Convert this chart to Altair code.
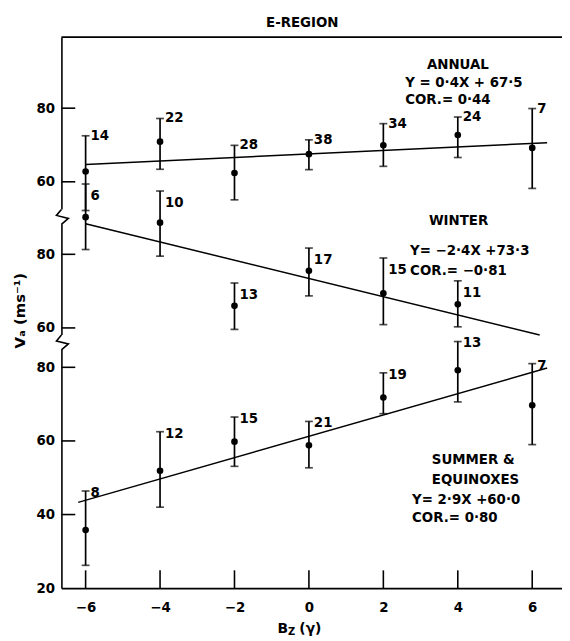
import altair as alt
import pandas as pd

# ---------------- data ----------------
bz = [-6, -4, -2, 0, 2, 4, 6]

annual_mean = [62.8, 70.9, 62.4, 67.5, 69.9, 72.7, 69.2]
annual_hi = [72.5, 77.2, 69.9, 71.4, 75.8, 77.6, 79.9]
annual_lo = [52.2, 63.4, 55.1, 63.3, 64.2, 66.6, 58.2]
annual_n = [14, 22, 28, 38, 34, 24, 7]

winter_bz = [-6, -4, -2, 0, 2, 4]
winter_mean = [90.1, 88.6, 66.0, 75.5, 69.4, 66.4]
winter_hi = [99.1, 97.2, 72.2, 81.7, 79.0, 72.8]
winter_lo = [81.3, 79.5, 59.6, 68.7, 60.9, 60.3]
winter_n = [6, 10, 13, 17, 15, 11]

summer_mean = [35.8, 51.9, 59.8, 58.8, 71.8, 79.2, 69.7]
summer_hi = [46.4, 62.5, 66.5, 65.3, 78.5, 87.0, 81.0]
summer_lo = [26.2, 42.0, 53.1, 52.7, 67.4, 70.6, 59.0]
summer_n = [8, 12, 15, 21, 19, 13, 7]

annual_fit_bz = [-6, 6.4]
annual_fit = [64.7, 70.6]
winter_fit_bz = [-6, 6.2]
winter_fit = [88.3, 58.1]
summer_fit_bz = [-6.2, 6.4]
summer_fit = [43.3, 79.8]

annual_ticks = [60, 80]
winter_ticks = [60, 80]
summer_ticks = [20, 40, 60, 80]
x_ticks = [-6, -4, -2, 0, 2, 4, 6]

# ---------------- layout (stacked panels on one scale) ----------------
OFFSET = {"annual": 70.4, "winter": 30.7, "summer": 0.0}
BREAKS = [121.0, 86.9]          # y-axis breaks between panels
X_MIN, X_MAX = -6.65, 6.8
Y_MIN, Y_MAX = 20, 169.7
W, H = 506, 557
PXX = W / (X_MAX - X_MIN)
PXY = H / (Y_MAX - Y_MIN)
FONT = "DejaVu Sans"
FW = "bold"
LABEL_DY = {"annual": 0, "winter": 12, "summer": 2}

series = {
    "annual": (bz, annual_mean, annual_lo, annual_hi, annual_n),
    "winter": (winter_bz, winter_mean, winter_lo, winter_hi, winter_n),
    "summer": (bz, summer_mean, summer_lo, summer_hi, summer_n),
}
rows = []
for name, (xs, m, lo, hi, n) in series.items():
    off = OFFSET[name]
    for i in range(len(xs)):
        rows.append(dict(series=name, x=xs[i], y=m[i] + off, lo=lo[i] + off,
                         hi=hi[i] + off, n=str(n[i])))
pts = pd.DataFrame(rows)

fits = {"annual": (annual_fit_bz, annual_fit), "winter": (winter_fit_bz, winter_fit),
        "summer": (summer_fit_bz, summer_fit)}
fit_df = pd.DataFrame([dict(series=k, x=xs[i], y=v[i] + OFFSET[k])
                       for k, (xs, v) in fits.items() for i in range(2)])

tick_pos = ([t + OFFSET["annual"] for t in annual_ticks] +
            [t + OFFSET["winter"] for t in winter_ticks] +
            [t + OFFSET["summer"] for t in summer_ticks])
ytick_df = pd.DataFrame({"y": [t for t in tick_pos if t > Y_MIN]})
ytick_df["x"] = X_MIN
ytick_df["x2"] = X_MIN + 14 / PXX
xtick_df = pd.DataFrame({"x": x_ticks})
xtick_df["y"] = Y_MIN
xtick_df["y2"] = Y_MIN + 18 / PXY

zz = [(0, -7), (-5, -1), (7, 2), (0, 8)]   # zig-zag shape, px
zig_rows, mask_rows = [], []
for b, yb in enumerate(BREAKS):
    for k, (dx, dy) in enumerate(zz):
        zig_rows.append(dict(b=b, k=k, x=X_MIN + dx / PXX, y=yb - dy / PXY))
    mask_rows.append(dict(x=X_MIN, y=yb + 7 / PXY, y2=yb - 8 / PXY))
zig_df = pd.DataFrame(zig_rows)
mask_df = pd.DataFrame(mask_rows)

border_df = pd.DataFrame([dict(x=X_MIN, x2=X_MAX, y=Y_MAX)])


def px_to_x(p):
    return (p - 86) / PXX - 6


def px_to_y(p):
    return Y_MIN + (591 - p) / PXY


ann = pd.DataFrame([
    dict(t="E-REGION", x=px_to_x(305), y=px_to_y(20), s=13.5, a="center"),
    dict(t="ANNUAL", x=px_to_x(431), y=px_to_y(62), s=13.5, a="left"),
    dict(t="Y = 0·4X + 67·5", x=px_to_x(409), y=px_to_y(80), s=13.5, a="left"),
    dict(t="COR.= 0·44", x=px_to_x(409), y=px_to_y(98), s=13.5, a="left"),
    dict(t="WINTER", x=px_to_x(433), y=px_to_y(220), s=13.5, a="left"),
    dict(t="Y= −2·4X +73·3", x=px_to_x(414), y=px_to_y(250), s=13.5, a="left"),
    dict(t="COR.= −0·81", x=px_to_x(414), y=px_to_y(270.7), s=13.5, a="left"),
    dict(t="SUMMER &", x=px_to_x(436), y=px_to_y(461), s=13.5, a="left"),
    dict(t="EQUINOXES", x=px_to_x(436), y=px_to_y(481.7), s=13.5, a="left"),
    dict(t="Y= 2·9X +60·0", x=px_to_x(416), y=px_to_y(501.7), s=13.5, a="left"),
    dict(t="COR.= 0·80", x=px_to_x(416), y=px_to_y(520), s=13.5, a="left"),
    dict(t="B", x=px_to_x(280), y=px_to_y(632), s=14, a="left"),
    dict(t="Z", x=px_to_x(290.5), y=px_to_y(635), s=10, a="left"),
    dict(t="(γ)", x=px_to_x(302), y=px_to_y(632), s=14, a="left"),
])

# ---------------- scales / axes ----------------
xscale = alt.Scale(domain=[X_MIN, X_MAX], nice=False, zero=False)
yscale = alt.Scale(domain=[Y_MIN, Y_MAX], nice=False, zero=False)
label_expr = ("datum.value > 125 ? format(datum.value - %s, 'd') : "
              "datum.value > 85 ? format(datum.value - %s, 'd') : format(datum.value, 'd')"
              % (OFFSET["annual"], OFFSET["winter"]))
xaxis = alt.Axis(values=x_ticks, title=None, tickSize=0, labelPadding=13, grid=False,
                 domainColor="black", domainWidth=1.6, labelFontSize=13.5,
                 labelFontWeight=FW, labelColor="black", labelFont=FONT)
yaxis = alt.Axis(values=tick_pos, labelExpr=label_expr, title="Vₐ (ms⁻¹)",
                 tickSize=0, labelPadding=7, grid=False, domainColor="black",
                 domainWidth=1.6, labelFontSize=13.5, labelFontWeight=FW,
                 labelColor="black", labelFont=FONT,
                 titleFont=FONT, titleFontSize=15, titleFontWeight=FW,
                 titleColor="black", titleX=-42, titleY=276, titleAngle=270,
                 titleAlign="center", titleBaseline="middle")


def X(f="x"):
    return alt.X(f + ":Q", scale=xscale, axis=xaxis)


def Y(f="y"):
    return alt.Y(f + ":Q", scale=yscale, axis=yaxis)


layers = []
layers.append(alt.Chart(pts).mark_point(opacity=0).encode(x=X(), y=Y()))
layers.append(alt.Chart(mask_df).mark_rule(color="white", strokeWidth=5).encode(
    x=X(), y=Y(), y2="y2:Q"))
layers.append(alt.Chart(zig_df).mark_line(color="black", strokeWidth=1.6).encode(
    x=X(), y=Y(), detail="b:N", order="k:Q"))
layers.append(alt.Chart(ytick_df).mark_rule(color="black", strokeWidth=1.6).encode(
    x=X(), x2="x2:Q", y=Y()))
layers.append(alt.Chart(xtick_df).mark_rule(color="black", strokeWidth=1.6).encode(
    x=X(), y=Y(), y2="y2:Q"))
layers.append(alt.Chart(border_df).mark_rule(color="black", strokeWidth=1.6).encode(
    x=X(), x2="x2:Q", y=Y()))
layers.append(alt.Chart(fit_df).mark_line(color="black", strokeWidth=1.5).encode(
    x=X(), y=Y(), detail="series:N"))
layers.append(alt.Chart(pts).mark_rule(color="black", strokeWidth=1.7).encode(
    x=X(), y=Y("lo"), y2="hi:Q"))
layers.append(alt.Chart(pts).mark_tick(color="black", orient="horizontal", size=8,
                                       thickness=1.7).encode(x=X(), y=Y("hi")))
layers.append(alt.Chart(pts).mark_tick(color="black", orient="horizontal", size=8,
                                       thickness=1.7).encode(x=X(), y=Y("lo")))
layers.append(alt.Chart(pts).mark_circle(color="black", size=45, opacity=1).encode(
    x=X(), y=Y()))
for name, dy in LABEL_DY.items():
    layers.append(alt.Chart(pts[pts.series == name]).mark_text(
        align="left", baseline="middle", dx=5, dy=dy, font=FONT, fontSize=13.5,
        fontWeight=FW, color="black").encode(x=X(), y=Y("hi"), text="n:N"))
for s in sorted(ann.s.unique()):
    for a in ann.a.unique():
        sub = ann[(ann.s == s) & (ann.a == a)]
        if len(sub) == 0:
            continue
        layers.append(alt.Chart(sub).mark_text(
            align=a, baseline="middle", font=FONT, fontSize=float(s), fontWeight=FW,
            color="black").encode(x=X(), y=Y(), text="t:N"))

chart = alt.layer(*layers).properties(
    width=W, height=H,
    autosize=alt.AutoSizeParams(type="none"),
    padding={"left": 54, "top": 26, "right": 0, "bottom": 54},
    background="white",
).configure_view(stroke=None)

chart.save("out.html", embed_options={"renderer": "svg", "actions": False})
